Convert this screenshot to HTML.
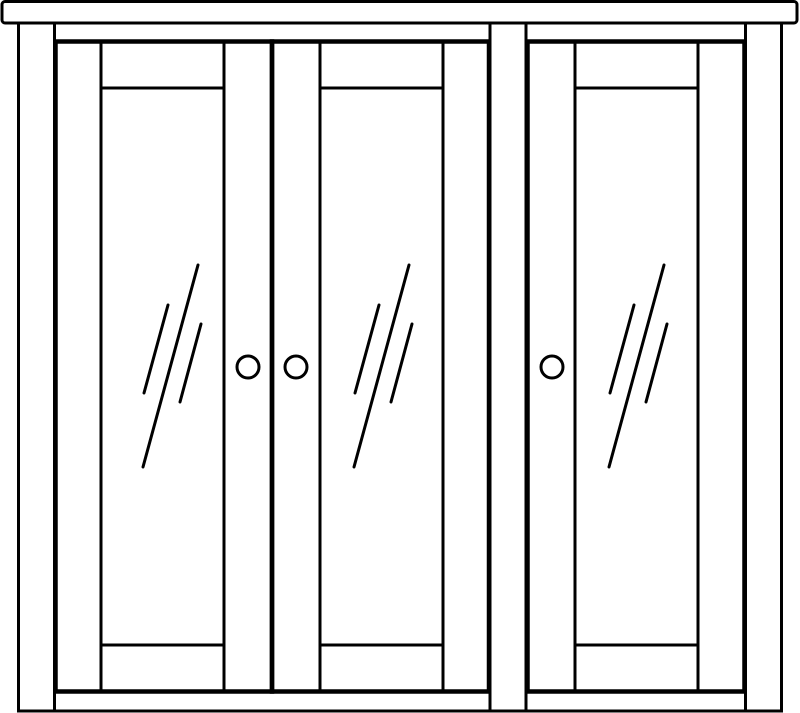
<!DOCTYPE html>
<html><head><meta charset="utf-8"><style>html,body{margin:0;padding:0;background:#fff}svg{display:block}</style></head>
<body>
<svg width="800" height="713" viewBox="0 0 800 713" xmlns="http://www.w3.org/2000/svg" fill="none" stroke="#000" stroke-linecap="round">
<rect x="18.5" y="23" width="36" height="688" stroke-width="3"/>
<rect x="490" y="23" width="36" height="688" stroke-width="3"/>
<rect x="745.5" y="23" width="36" height="688" stroke-width="3"/>
<rect x="54.5" y="23" width="435.5" height="18" stroke-width="3"/>
<rect x="526" y="23" width="219.5" height="18" stroke-width="3"/>
<rect x="54.5" y="692" width="435.5" height="19" stroke-width="3"/>
<rect x="526" y="692" width="219.5" height="19" stroke-width="3"/>
<rect x="2" y="1.5" width="795" height="21.5" rx="3" fill="#fff" stroke-width="3"/>
<rect x="55.5" y="41.5" width="216.5" height="650" stroke-width="4.5"/>
<rect x="272" y="41.5" width="217" height="650" stroke-width="4.5"/>
<rect x="527.5" y="41.5" width="217" height="650" stroke-width="4.5"/>
<g stroke-width="3">
<line x1="101" y1="42" x2="101" y2="691"/><line x1="224" y1="42" x2="224" y2="691"/>
<line x1="101" y1="88" x2="224" y2="88"/><line x1="101" y1="645" x2="224" y2="645"/>
<line x1="320" y1="42" x2="320" y2="691"/><line x1="443" y1="42" x2="443" y2="691"/>
<line x1="320" y1="88" x2="443" y2="88"/><line x1="320" y1="645" x2="443" y2="645"/>
<line x1="575" y1="42" x2="575" y2="691"/><line x1="698" y1="42" x2="698" y2="691"/>
<line x1="575" y1="88" x2="698" y2="88"/><line x1="575" y1="645" x2="698" y2="645"/>
<circle cx="248" cy="367" r="11"/><circle cx="296" cy="367" r="11"/><circle cx="552" cy="367" r="11"/>
</g>
<g stroke-width="3">
<line x1="198" y1="265" x2="143" y2="467"/>
<line x1="168" y1="305" x2="144" y2="393"/>
<line x1="201" y1="324" x2="180" y2="402"/>
</g>
<g stroke-width="3" transform="translate(211,0)">
<line x1="198" y1="265" x2="143" y2="467"/>
<line x1="168" y1="305" x2="144" y2="393"/>
<line x1="201" y1="324" x2="180" y2="402"/>
</g>
<g stroke-width="3" transform="translate(466,0)">
<line x1="198" y1="265" x2="143" y2="467"/>
<line x1="168" y1="305" x2="144" y2="393"/>
<line x1="201" y1="324" x2="180" y2="402"/>
</g>
</svg>
</body></html>
